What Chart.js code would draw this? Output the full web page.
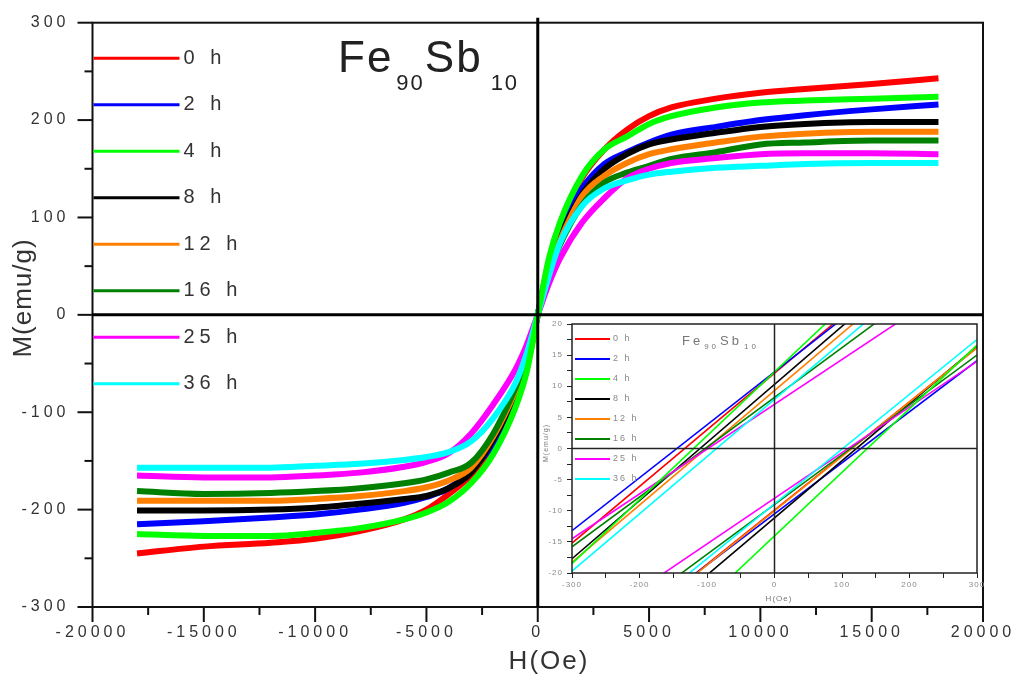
<!DOCTYPE html>
<html>
<head>
<meta charset="utf-8">
<script src="https://cdn.jsdelivr.net/npm/chart.js@4.4.0/dist/chart.umd.min.js"></script>
<style>
html, body { margin: 0; padding: 0; background: #fff; }
#caja { position: relative; width: 1016px; height: 675px; }
#grafica { position: absolute; left: 0; top: 0; }
#inserto { position: absolute; left: 535px; top: 318px; }
</style>
</head>
<body>
<div id="caja">
  <canvas id="grafica" width="1016" height="675"></canvas>
  <canvas id="inserto" width="452" height="290"></canvas>
</div>
<script>
//DATOS DE LA GRAFICA PRINCIPAL
var etiquetas = ['0 h', '2 h', '4 h', '8 h', '12 h', '16 h', '25 h', '36 h'];
var colores = ['#ff0000', '#0000ff', '#00ff00', '#000000', '#ff8000', '#008000', '#ff00ff', '#00ffff'];
//orden de dibujo: numero alto se pinta antes
var ordenDibujo = [7, 6, 0, 5, 4, 3, 2, 1];

var campoH = [-18000, -15000, -12000, -10000, -8000, -6000, -5000, -4000, -3000, -2000, -1000, -500, 0,
              500, 1000, 2000, 3000, 4000, 5000, 6000, 8000, 10000, 12000, 15000, 18000];

var m0h  = [-245, -238, -234, -230, -222, -210, -200, -184, -165, -138, -90, -55, 0, 55, 92, 141, 170, 190, 204, 213, 222, 228, 232, 237, 243];
var m2h  = [-215, -212, -208, -205, -200, -193, -187, -178, -160, -132, -85, -52, 0, 52, 86, 130, 155, 167, 177, 185, 193, 200, 205, 211, 216];
var m4h  = [-225, -227, -227, -224, -219, -210, -203, -192, -173, -143, -95, -59, 0, 58, 95, 143, 170, 183, 196, 204, 213, 218, 220, 222, 224];
var m8h  = [-201, -201, -200, -198, -194, -189, -186, -178, -162, -128, -82, -49, 0, 48, 80, 124, 150, 165, 175, 180, 187, 193, 196, 198, 198];
var m12h = [-191, -191, -191, -189, -186, -181, -177, -170, -157, -125, -78, -47, 0, 45, 76, 122, 143, 156, 165, 170, 177, 183, 186, 188, 188];
var m16h = [-181, -184, -183, -181, -178, -173, -169, -162, -152, -122, -75, -45, 0, 43, 72, 113, 136, 146, 153, 160, 167, 175, 177, 179, 179];
var m25h = [-165, -167, -167, -165, -162, -156, -151, -142, -122, -92, -56, -31, 0, 32, 58, 95, 120, 140, 150, 156, 161, 165, 166, 166, 165];
var m36h = [-157, -157, -157, -155, -153, -149, -146, -141, -130, -106, -70, -40, 0, 40, 74, 112, 130, 138, 144, 147, 151, 153, 155, 156, 156];

var series = [m0h, m2h, m4h, m8h, m12h, m16h, m25h, m36h];

//DATOS DEL RECUADRO (zoom cerca del origen)
var campoInserto = [-300, 300];
//rama que baja (corta en H negativo): valor en H=-300 y en H=300
var ramaSupIzq = [-15.2, -13.2, -18.5, -17.7, -18.3, -15.8, -14.5, -19.7];
var ramaSupDer = [39.4, 37.8, 43.1, 38.3, 36.9, 32.2, 28.7, 35.5];
//rama que sube (corta en H positivo)
var ramaInfIzq = [-36.0, -35.1, -44.7, -38.7, -36.2, -33.0, -30.0, -35.3];
var ramaInfDer = [16.2, 14.1, 16.6, 16.4, 16.2, 15.0, 14.0, 17.5];

var fuente = '"Liberation Sans", Arial, sans-serif';

function linea(ctx, x1, y1, x2, y2) {
    ctx.beginPath();
    ctx.moveTo(x1, y1);
    ctx.lineTo(x2, y2);
    ctx.stroke();
}

//quita el margen extra que Chart.js reserva para las etiquetas de los extremos
function sinMargen(s) {
    s.paddingTop = 0;
    s.paddingBottom = 0;
    s.paddingLeft = 0;
    s.paddingRight = 0;
}

//texto con subindices, partes = [texto, tamaño, bajada, hueco antes]
function formula(ctx, partes, x, y, espacio) {
    partes.forEach(function (p) {
        ctx.font = p[1] + 'px ' + fuente;
        ctx.letterSpacing = espacio;
        x += p[3];
        ctx.fillText(p[0], x, y + p[2]);
        x += ctx.measureText(p[0]).width;
    });
}

//-----------------------------------------------------------------------------------------
//PLUGIN: ejes, marco, leyenda y titulos de la grafica principal
//-----------------------------------------------------------------------------------------
var dibujoPrincipal = {
    id: 'dibujoPrincipal',
    beforeDraw: function (chart) {
        chart.ctx.letterSpacing = '4px';
    },
    afterDraw: function (chart) {
        var ctx = chart.ctx, a = chart.chartArea;
        var ex = chart.scales.x, ey = chart.scales.y;
        ctx.save();
        ctx.letterSpacing = '0px';
        ctx.strokeStyle = '#111';
        ctx.lineWidth = 2;
        ctx.strokeRect(a.left, a.top, a.right - a.left, a.bottom - a.top);

        //marcas del eje y (cada 50, grandes cada 100)
        for (var v = -300; v <= 300; v += 50) {
            var py = ey.getPixelForValue(v);
            linea(ctx, a.left - (v % 100 === 0 ? 15 : 8), py, a.left, py);
        }
        //marcas del eje x (cada 2500, grandes cada 5000)
        for (var h = -20000; h <= 20000; h += 2500) {
            var px = ex.getPixelForValue(h);
            linea(ctx, px, a.bottom, px, a.bottom + (h % 5000 === 0 ? 15 : 8));
        }

        //lineas del cero
        ctx.strokeStyle = '#000';
        ctx.lineWidth = 3;
        var x0 = ex.getPixelForValue(0), y0 = ey.getPixelForValue(0);
        linea(ctx, x0, a.top - 5, x0, a.bottom);
        linea(ctx, a.left, y0, a.right, y0);

        //leyenda
        ctx.textBaseline = 'middle';
        ctx.fillStyle = '#333';
        etiquetas.forEach(function (et, i) {
            var fy = a.top + 35.5 + i * 46.5;
            ctx.strokeStyle = colores[i];
            ctx.lineWidth = 3;
            linea(ctx, a.left + 1, fy, a.left + 87, fy);
            ctx.font = '20px ' + fuente;
            ctx.letterSpacing = '5px';
            ctx.fillText(et, a.left + 91, fy);
        });

        //titulo Fe90Sb10
        ctx.textBaseline = 'alphabetic';
        ctx.fillStyle = '#222';
        formula(ctx, [['Fe', 44, 0, 0], ['90', 22, 18, 3], ['Sb', 44, 0, 0], ['10', 22, 18, 8]], 338, 72, '2px');

        //titulos de ejes
        ctx.fillStyle = '#333';
        ctx.font = '26px ' + fuente;
        ctx.letterSpacing = '2px';
        ctx.textAlign = 'center';
        ctx.fillText('H(Oe)', 549, 669);
        ctx.save();
        ctx.translate(31, 298);
        ctx.rotate(-Math.PI / 2);
        ctx.letterSpacing = '1px';
        ctx.fillText('M(emu/g)', 0, 0);
        ctx.restore();
        ctx.restore();
    }
};

//CONSTRUCTOR DE LA GRAFICA PRINCIPAL
var conjuntos = series.map(function (s, i) {
    return {
        label: etiquetas[i],
        data: campoH.map(function (h, j) { return { x: h, y: s[j] }; }),
        borderColor: colores[i],
        backgroundColor: colores[i],
        borderWidth: 6,
        pointRadius: 0,
        fill: false,
        cubicInterpolationMode: 'monotone',
        borderJoinStyle: 'round',
        order: ordenDibujo[i]
    };
});

var miGrafica = new Chart(document.getElementById('grafica'), {
    type: 'line',
    data: { datasets: conjuntos },
    options: {
        responsive: false,
        animation: false,
        events: [],
        layout: { padding: { top: 22.7, right: 33, left: 0, bottom: 0 } },
        plugins: { legend: { display: false }, tooltip: { enabled: false } },
        scales: {
            x: {
                type: 'linear', min: -20000, max: 20000,
                grid: { display: false, drawTicks: false },
                border: { display: false },
                afterFit: function (s) { s.height = 68; sinMargen(s); },
                ticks: {
                    stepSize: 5000, autoSkip: false, maxRotation: 0, padding: 16,
                    color: '#333', font: { family: fuente, size: 16 },
                    callback: function (v) { return String(v); }
                }
            },
            y: {
                type: 'linear', min: -300, max: 300,
                grid: { display: false, drawTicks: false },
                border: { display: false },
                afterFit: function (s) { s.width = 92.5; sinMargen(s); },
                ticks: {
                    stepSize: 100, padding: 23,
                    color: '#333', font: { family: fuente, size: 16 },
                    callback: function (v) { return String(v); }
                }
            }
        }
    },
    plugins: [dibujoPrincipal]
});

//-----------------------------------------------------------------------------------------
//RECUADRO PEQUEÑO
//-----------------------------------------------------------------------------------------
var dibujoInserto = {
    id: 'dibujoInserto',
    beforeDraw: function (chart) {
        chart.ctx.letterSpacing = '1px';
    },
    afterDraw: function (chart) {
        var ctx = chart.ctx, a = chart.chartArea;
        var ex = chart.scales.x, ey = chart.scales.y;
        ctx.save();
        ctx.letterSpacing = '0px';
        ctx.strokeStyle = '#222';
        ctx.lineWidth = 1.5;
        ctx.strokeRect(a.left, a.top, a.right - a.left, a.bottom - a.top);
        var x0 = ex.getPixelForValue(0), y0 = ey.getPixelForValue(0);
        linea(ctx, x0, a.top, x0, a.bottom);
        linea(ctx, a.left, y0, a.right, y0);

        //leyenda
        ctx.textBaseline = 'middle';
        ctx.fillStyle = '#888';
        etiquetas.forEach(function (et, i) {
            var fy = a.top + 15 + i * 20;
            ctx.strokeStyle = colores[i];
            ctx.lineWidth = 1.8;
            linea(ctx, a.left + 3, fy, a.left + 38, fy);
            ctx.font = '9px ' + fuente;
            ctx.letterSpacing = '2px';
            ctx.fillText(et, a.left + 41, fy);
        });

        //titulo
        ctx.textBaseline = 'alphabetic';
        ctx.fillStyle = '#777';
        formula(ctx, [['Fe', 13, 0, 0], ['90', 8, 4, 1], ['Sb', 13, 0, 1], ['10', 8, 4, 2]], 147, 27, '3px');

        //titulos de ejes
        ctx.font = '8px ' + fuente;
        ctx.letterSpacing = '1px';
        ctx.textAlign = 'center';
        ctx.fillText('H(Oe)', 244, 283);
        ctx.save();
        ctx.translate(13, 125);
        ctx.rotate(-Math.PI / 2);
        ctx.font = '7px ' + fuente;
        ctx.fillText('M(emu/g)', 0, 0);
        ctx.restore();
        ctx.restore();
    }
};

var conjuntosInserto = [];
series.forEach(function (s, i) {
    [[ramaSupIzq, ramaSupDer], [ramaInfIzq, ramaInfDer]].forEach(function (rama) {
        conjuntosInserto.push({
            label: etiquetas[i],
            data: [{ x: campoInserto[0], y: rama[0][i] }, { x: campoInserto[1], y: rama[1][i] }],
            borderColor: colores[i],
            borderWidth: 1.6,
            pointRadius: 0,
            fill: false,
            order: ordenDibujo[i]
        });
    });
});

var graficaInserto = new Chart(document.getElementById('inserto'), {
    type: 'line',
    data: { datasets: conjuntosInserto },
    options: {
        responsive: false,
        animation: false,
        events: [],
        layout: { padding: { top: 6, right: 10, left: 0, bottom: 0 } },
        plugins: { legend: { display: false }, tooltip: { enabled: false } },
        scales: {
            x: {
                type: 'linear', min: -300, max: 300,
                grid: { drawOnChartArea: false, drawTicks: true, tickLength: 5, color: '#222', lineWidth: 1 },
                border: { display: false },
                afterFit: function (s) { s.height = 35; sinMargen(s); },
                ticks: {
                    stepSize: 50, autoSkip: false, maxRotation: 0, padding: 2,
                    color: '#8a8a8a', font: { family: fuente, size: 8 },
                    callback: function (v) { return v % 100 === 0 ? String(v) : ''; }
                }
            },
            y: {
                type: 'linear', min: -20, max: 20,
                grid: { drawOnChartArea: false, drawTicks: true, tickLength: 5, color: '#222', lineWidth: 1 },
                border: { display: false },
                afterFit: function (s) { s.width = 37; sinMargen(s); },
                ticks: {
                    stepSize: 2.5, autoSkip: false, padding: 4,
                    color: '#8a8a8a', font: { family: fuente, size: 8 },
                    callback: function (v) { return v % 5 === 0 ? String(v) : ''; }
                }
            }
        }
    },
    plugins: [dibujoInserto]
});
</script>
</body>
</html>
